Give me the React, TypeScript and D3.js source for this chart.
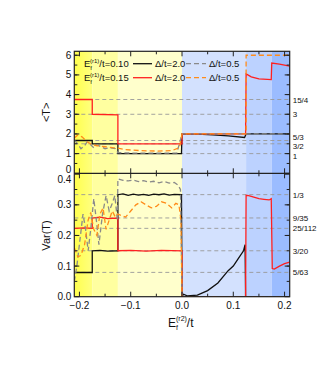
import React from "react";
import * as d3 from "d3";

type P = [number, number];

// background regions (x ranges) and colours
const bands: { x0: number; x1: number; fill: string }[] = [
  { x0: -0.21, x1: -0.175, fill: "url(#yel)" },
  { x0: -0.175, x1: -0.125, fill: "#ffffa0" },
  { x0: -0.125, x1: 0, fill: "#ffffcc" },
  { x0: 0, x1: 0.125, fill: "#d3e1fe" },
  { x0: 0.125, x1: 0.175, fill: "#bcd2ff" },
  { x0: 0.175, x1: 0.21, fill: "#9bbcff" },
];

const xTicks = [-0.2, -0.1, 0.0, 0.1, 0.2];
const tTicks = [0, 1, 2, 3, 4, 5, 6];
const vTicks = [0.0, 0.1, 0.2, 0.3, 0.4];
const tRefs = [
  { v: 15 / 4, label: "15/4" },
  { v: 3, label: "3" },
  { v: 5 / 3, label: "5/3" },
  { v: 3 / 2, label: "3/2" },
  { v: 1, label: "1" },
];
const vRefs = [
  { v: 1 / 3, label: "1/3" },
  { v: 9 / 35, label: "9/35" },
  { v: 25 / 112, label: "25/112" },
  { v: 3 / 20, label: "3/20" },
  { v: 5 / 63, label: "5/63" },
];

// <T>
const tBlack: P[] = [[-0.21, 1.667], [-0.175, 1.667], [-0.175, 1.5], [-0.125, 1.5], [-0.125, 1.0], [-0.001, 1.0], [0, 2.0], [0.03, 1.99], [0.06, 1.95], [0.09, 1.9], [0.122, 1.82], [0.125, 2.0], [0.21, 2.0]];
const tRed: P[] = [[-0.21, 3.75], [-0.175, 3.75], [-0.175, 3.0], [-0.125, 2.97], [-0.125, 1.5], [0, 1.5], [0, 2.0], [0.124, 2.0], [0.125, 5.05], [0.135, 4.9], [0.15, 4.8], [0.174, 4.76], [0.175, 5.6], [0.19, 5.55], [0.21, 5.45]];
const tGray: P[] = [[-0.21, 1.68], [-0.205, 1.55], [-0.197, 1.25], [-0.19, 1.4], [-0.185, 1.6], [-0.178, 1.45], [-0.172, 1.3], [-0.165, 1.45], [-0.158, 1.35], [-0.15, 1.25], [-0.14, 1.3], [-0.13, 1.25], [-0.125, 1.05], [-0.1, 1.03], [-0.05, 1.02], [-0.01, 1.03], [0, 2.0], [0.21, 2.0]];
const tOrange: P[] = [[-0.21, 1.8], [-0.203, 1.95], [-0.195, 1.85], [-0.185, 1.6], [-0.175, 1.45], [-0.165, 1.4], [-0.15, 1.35], [-0.135, 1.3], [-0.125, 1.28], [-0.11, 1.2], [-0.08, 1.15], [-0.05, 1.13], [-0.02, 1.15], [-0.005, 1.3], [0, 2.0], [0.125, 2.0], [0.125, 6.0], [0.21, 6.0]];

// Var(T)
const vBlack: P[] = [[-0.21, 0.079], [-0.175, 0.079], [-0.175, 0.15], [-0.16, 0.151], [-0.145, 0.149], [-0.125, 0.15], [-0.125, 0.333], [-0.115, 0.336], [-0.105, 0.331], [-0.095, 0.335], [-0.085, 0.332], [-0.075, 0.334], [-0.065, 0.331], [-0.055, 0.335], [-0.045, 0.333], [-0.035, 0.336], [-0.025, 0.332], [-0.015, 0.334], [-0.001, 0.333], [0, 0.0], [0.003, 0.008], [0.01, 0.003], [0.03, 0.005], [0.05, 0.02], [0.07, 0.045], [0.09, 0.085], [0.1, 0.1], [0.11, 0.125], [0.12, 0.15], [0.123, 0.17], [0.124, 0.0], [0.21, 0.0]];
const vRed: P[] = [[-0.21, 0.223], [-0.19, 0.225], [-0.175, 0.223], [-0.175, 0.257], [-0.16, 0.26], [-0.145, 0.255], [-0.125, 0.257], [-0.125, 0.15], [-0.1, 0.151], [-0.07, 0.149], [-0.04, 0.151], [0, 0.15], [0, 0.0], [0.124, 0.0], [0.125, 0.331], [0.13, 0.33], [0.14, 0.325], [0.15, 0.32], [0.16, 0.318], [0.17, 0.316], [0.174, 0.32], [0.176, 0.092], [0.18, 0.09], [0.19, 0.1], [0.2, 0.108], [0.21, 0.113]];
const vGray: P[] = [[-0.21, 0.05], [-0.205, 0.1], [-0.198, 0.2], [-0.193, 0.27], [-0.188, 0.22], [-0.183, 0.15], [-0.178, 0.22], [-0.172, 0.32], [-0.167, 0.25], [-0.162, 0.17], [-0.155, 0.27], [-0.148, 0.33], [-0.142, 0.28], [-0.137, 0.3], [-0.131, 0.33], [-0.126, 0.25], [-0.125, 0.385], [-0.115, 0.38], [-0.105, 0.378], [-0.095, 0.381], [-0.085, 0.376], [-0.075, 0.379], [-0.065, 0.374], [-0.055, 0.377], [-0.045, 0.372], [-0.035, 0.376], [-0.025, 0.371], [-0.015, 0.373], [-0.008, 0.365], [-0.003, 0.35], [0, 0.0], [0.21, 0.0]];
const vOrange: P[] = [[-0.21, 0.16], [-0.203, 0.13], [-0.197, 0.135], [-0.19, 0.17], [-0.183, 0.25], [-0.178, 0.275], [-0.172, 0.22], [-0.166, 0.2], [-0.16, 0.27], [-0.154, 0.29], [-0.148, 0.22], [-0.142, 0.25], [-0.136, 0.28], [-0.13, 0.26], [-0.125, 0.27], [-0.118, 0.265], [-0.11, 0.26], [-0.1, 0.28], [-0.09, 0.3], [-0.08, 0.31], [-0.07, 0.3], [-0.06, 0.29], [-0.05, 0.295], [-0.04, 0.31], [-0.03, 0.305], [-0.02, 0.29], [-0.012, 0.305], [-0.006, 0.3], [-0.002, 0.25], [0, 0.0], [0.21, 0.0]];

const W = 332, H = 382;
const L = 74.3, R = 289.7, T0 = 51.3, MID = 173.3, B = 296.7;
const font = "Liberation Sans, Arial, sans-serif";

// small label nudges where the reference fractions sit close together
const refShift: Record<string, number> = { "5/3": -3.5, "3/2": 2.5, "1": 2 };

export default function App() {
  const x = d3.scaleLinear().domain([-0.21, 0.21]).range([L, R]);
  const yT = d3.scaleLinear().domain([0, 6.2]).range([MID, T0]);
  const yV = d3.scaleLinear().domain([0, 0.403]).range([B, MID]);

  const lineT = d3.line<P>().x((d) => x(d[0])).y((d) => yT(d[1]));
  const lineV = d3.line<P>().x((d) => x(d[0])).y((d) => yV(d[1]));

  const xMinor = d3.range(-0.2, 0.2001, 0.05);
  const tMinor = d3.range(0.5, 6.01, 0.5);
  const vMinor = d3.range(0.05, 0.4, 0.05);

  const series = (lf: d3.Line<P>, data: P[][]) => (
    <g fill="none" strokeWidth={1.3}>
      <path d={lf(data[0]) || ""} stroke="#111" />
      <path d={lf(data[1]) || ""} stroke="#ff2020" />
      <path d={lf(data[2]) || ""} stroke="#8a8a8a" strokeDasharray="5,3" />
      <path d={lf(data[3]) || ""} stroke="#ff8c1a" strokeDasharray="5,3" />
    </g>
  );

  const legendRow = (y: number, val: string, c1: string, c2: string) => (
    <g fontFamily={font} fontSize={9.5} fill="#111">
      <text x={84} y={y + 3.5}>
        E<tspan fontSize={6} dy={3}>f</tspan>
        <tspan fontSize={6} dy={-7} dx={-2}>(r1)</tspan>
        <tspan dy={4}>/t={val}</tspan>
      </text>
      <line x1={133} x2={152} y1={y} y2={y} stroke={c1} strokeWidth={1.3} />
      <text x={155} y={y + 3.5}>Δ/t=2.0</text>
      <line x1={186} x2={206} y1={y} y2={y} stroke={c2} strokeWidth={1.3} strokeDasharray="5,3" />
      <text x={209} y={y + 3.5}>Δ/t=0.5</text>
    </g>
  );

  return (
    <svg width={W} height={H} style={{ position: "absolute", left: 0, top: 0 }}>
      <defs>
        <linearGradient id="yel" x1="0" x2="1" y1="0" y2="0">
          <stop offset="0" stopColor="#ffff4d" />
          <stop offset="1" stopColor="#ffff80" />
        </linearGradient>
        <clipPath id="cT"><rect x={L} y={T0} width={R - L} height={MID - T0} /></clipPath>
        <clipPath id="cV"><rect x={L} y={MID} width={R - L} height={B - MID} /></clipPath>
      </defs>
      {bands.map((b, i) => (
        <rect key={i} x={x(b.x0)} y={T0} width={x(b.x1) - x(b.x0)} height={B - T0} fill={b.fill} />
      ))}
      {/* reference lines */}
      <g stroke="#999" strokeDasharray="4,3" strokeWidth={0.9}>
        {tRefs.map((r) => <line key={r.label} x1={L} x2={R} y1={yT(r.v)} y2={yT(r.v)} />)}
        {vRefs.map((r) => <line key={r.label} x1={L} x2={R} y1={yV(r.v)} y2={yV(r.v)} />)}
      </g>
      <g clipPath="url(#cT)">{series(lineT, [tBlack, tRed, tGray, tOrange])}</g>
      <g clipPath="url(#cV)">{series(lineV, [vBlack, vRed, vGray, vOrange])}</g>
      {legendRow(63.7, "0.10", "#111", "#8a8a8a")}
      {legendRow(77.7, "0.15", "#ff2020", "#ff8c1a")}
      {/* frames */}
      <g fill="none" stroke="#222" strokeWidth={1.2}>
        <rect x={L} y={T0} width={R - L} height={B - T0} />
        <line x1={L} x2={R} y1={MID} y2={MID} />
      </g>
      {/* ticks */}
      <g stroke="#222" strokeWidth={1}>
        {xMinor.map((v, i) => {
          const big = Math.abs(Math.round(v * 10) - v * 10) < 1e-6;
          const len = big ? 5 : 3;
          return (
            <g key={i}>
              <line x1={x(v)} x2={x(v)} y1={T0} y2={T0 + len} />
              <line x1={x(v)} x2={x(v)} y1={MID - len} y2={MID + len} />
              <line x1={x(v)} x2={x(v)} y1={B} y2={B - len} />
            </g>
          );
        })}
        {tTicks.map((v) => (
          <g key={"t" + v}>
            <line x1={L} x2={L + 5} y1={yT(v)} y2={yT(v)} />
            <line x1={R} x2={R - 5} y1={yT(v)} y2={yT(v)} />
          </g>
        ))}
        {tMinor.map((v) => (
          <g key={"tm" + v}>
            <line x1={L} x2={L + 3} y1={yT(v)} y2={yT(v)} />
            <line x1={R} x2={R - 3} y1={yT(v)} y2={yT(v)} />
          </g>
        ))}
        {vTicks.map((v) => (
          <g key={"v" + v}>
            <line x1={L} x2={L + 5} y1={yV(v)} y2={yV(v)} />
            <line x1={R} x2={R - 5} y1={yV(v)} y2={yV(v)} />
          </g>
        ))}
        {vMinor.map((v, i) => (
          <g key={"vm" + i}>
            <line x1={L} x2={L + 3} y1={yV(v)} y2={yV(v)} />
            <line x1={R} x2={R - 3} y1={yV(v)} y2={yV(v)} />
          </g>
        ))}
      </g>
      {/* tick labels */}
      <g fontFamily={font} fontSize={10} fill="#111">
        {tTicks.map((v) => (
          <text key={"lt" + v} x={L - 3} y={yT(v) + 3.5 - (v === 0 ? 4 : 0)} textAnchor="end">{v}</text>
        ))}
        {vTicks.map((v) => (
          <text key={"lv" + v} x={L - 3} y={yV(v) + 3.5 + (v === 0.4 ? 5 : 0)} textAnchor="end">{d3.format(".1f")(v)}</text>
        ))}
        {xTicks.map((v) => (
          <text key={"lx" + v} x={x(v)} y={B + 12} textAnchor="middle">{d3.format(".1f")(v)}</text>
        ))}
      </g>
      <g fontFamily={font} fontSize={8} fill="#111">
        {tRefs.map((r) => (
          <text key={r.label} x={R + 3} y={yT(r.v) + 3 + (refShift[r.label] || 0)}>{r.label}</text>
        ))}
        {vRefs.map((r) => (
          <text key={r.label} x={R + 3} y={yV(r.v) + 3}>{r.label}</text>
        ))}
      </g>
      {/* axis titles */}
      <g fontFamily={font} fontSize={11} fill="#111">
        <text transform={`translate(50,${yT(3.1)}) rotate(-90)`} textAnchor="middle">{"<T>"}</text>
        <text transform={`translate(50,${yV(0.2)}) rotate(-90)`} textAnchor="middle">Var(T)</text>
        <text x={168} y={327} fontSize={12}>
          E<tspan fontSize={7} dy={3}>f</tspan>
          <tspan fontSize={7} dy={-9} dx={-2}>(r2)</tspan>
          <tspan dy={6}>/t</tspan>
        </text>
      </g>
    </svg>
  );
}
